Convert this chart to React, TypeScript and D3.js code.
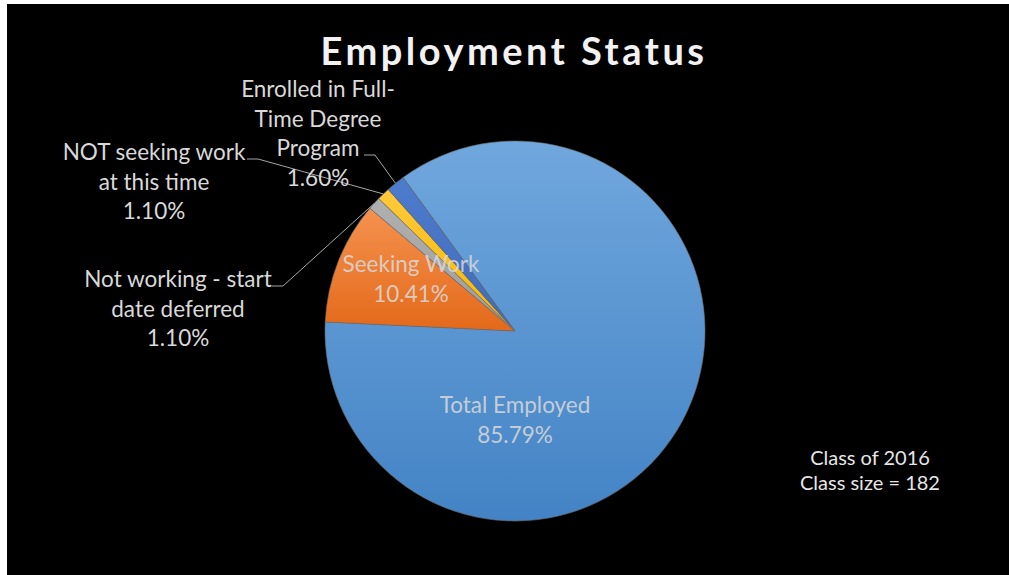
import * as d3 from "d3"

// slice data, in drawing order (clockwise)
const categories = [
  "Total Employed",
  "Seeking Work",
  "Not working - start date deferred",
  "NOT seeking work at this time",
  "Enrolled in Full-Time Degree Program",
]
const values = [85.79, 10.41, 1.1, 1.1, 1.6]
const labelLines = [
  ["Total Employed"],
  ["Seeking Work"],
  ["Not working - start", "date deferred"],
  ["NOT seeking work", "at this time"],
  ["Enrolled in Full-", "Time Degree", "Program"],
]
const noteLines = ["Class of 2016", "Class size = 182"]
const title = "Employment Status"

const W = 1009
const H = 575
const cx = 515
const cy = 331
const R = 190
const startDeg = -36.1

// top/bottom gradient stops per slice
const gradTop = ["#70a7dd", "#f4924f", "#b0b0b0", "#ffc93a", "#4e7ccd"]
const gradBot = ["#4383c5", "#e4691a", "#9c9c9c", "#f5b800", "#3f6bbb"]

// label placement: inside labels sit on the slice, outside ones get a leader
// (lx = leader start x, line = which text line the leader hangs off)
const labelPos = [
  { x: 515, y: 413, inside: true, lx: 0, line: 0 },
  { x: 411, y: 272, inside: true, lx: 0, line: 0 },
  { x: 178, y: 287, inside: false, lx: 272, line: 0 },
  { x: 154, y: 160, inside: false, lx: 247, line: 0 },
  { x: 318, y: 97, inside: false, lx: 364, line: 2 },
]

type Datum = { name: string; value: number; i: number }

export default function App() {
  const data: Datum[] = categories.map((name, i) => ({ name, value: values[i], i }))
  const start = (startDeg * Math.PI) / 180
  const pie = d3
    .pie<Datum>()
    .value((d) => d.value)
    .sort(null)
    .startAngle(start)
    .endAngle(start + 2 * Math.PI)
  const arcs = pie(data)
  const arc = d3.arc<d3.PieArcDatum<Datum>>().innerRadius(0).outerRadius(R)
  const edge = d3.arc<d3.PieArcDatum<Datum>>().innerRadius(R).outerRadius(R)
  const fmt = (v: number) => v.toFixed(2) + "%"
  const lineH = 29.5
  const labelColor = "#d9d9d9"
  const font = "Lato, 'Open Sans', sans-serif"

  return (
    <svg
      width={W}
      height={H}
      style={{ position: "absolute", left: 0, top: 0, background: "#fff" }}
    >
      <defs>
        {arcs.map((a) => (
          <linearGradient key={a.index} id={`g${a.index}`} x1="0" y1="0" x2="0" y2="1">
            <stop offset="0%" stopColor={gradTop[a.index]} />
            <stop offset="100%" stopColor={gradBot[a.index]} />
          </linearGradient>
        ))}
      </defs>
      <rect x={7} y={4} width={W - 7} height={H - 4} fill="#000" />

      <text
        x={514}
        y={65}
        textAnchor="middle"
        fill="#f2f2f2"
        fontFamily={font}
        fontWeight="bold"
        fontSize={38}
        letterSpacing={3.5}
      >
        {title}
      </text>

      <g transform={`translate(${cx},${cy})`}>
        {arcs.map((a) => (
          <path
            key={a.index}
            d={arc(a) || ""}
            fill={`url(#g${a.index})`}
            stroke="rgba(110,110,110,0.8)"
            strokeWidth={0.75}
          />
        ))}
      </g>

      {arcs.map((a) => {
        const p = labelPos[a.index]
        const lines = [...labelLines[a.index], fmt(a.data.value)]
        const inside = p.inside
        let leader = null
        if (!inside) {
          const [ex, ey] = edge.centroid(a)
          const ly = p.y + p.line * lineH - 1
          leader = (
            <polyline
              points={`${p.lx},${ly} ${p.lx + 11},${ly} ${cx + ex},${cy + ey}`}
              fill="none"
              stroke="#a6a6a6"
              strokeWidth={1}
            />
          )
        }
        return (
          <g key={a.index}>
            {leader}
            <text
              textAnchor="middle"
              fontFamily={font}
              fontSize={22.5}
              fill={labelColor}
              opacity={inside ? 0.85 : 1}
            >
              {lines.map((t, k) => (
                <tspan key={k} x={p.x} y={p.y + k * lineH}>
                  {t}
                </tspan>
              ))}
            </text>
          </g>
        )
      })}

      <text textAnchor="middle" fontFamily={font} fontSize={20} fill="#e6e6e6">
        {noteLines.map((t, k) => (
          <tspan key={k} x={870} y={465 + k * 25}>
            {t}
          </tspan>
        ))}
      </text>
    </svg>
  )
}
